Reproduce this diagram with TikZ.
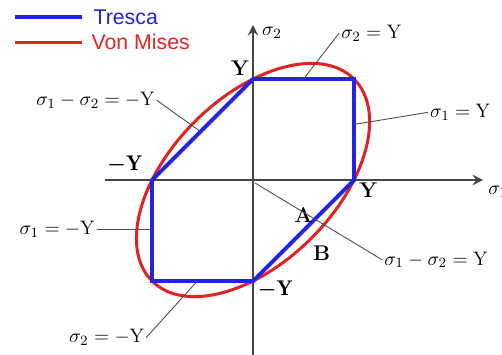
\documentclass[tikz,border=0pt]{standalone}
\usepackage{amsmath}
\usepackage{fontspec}
\newfontfamily\legendfont{Liberation Sans}
\usetikzlibrary{positioning}
\definecolor{trescablue}{RGB}{35,35,225}
\definecolor{misesred}{RGB}{225,35,35}
\definecolor{axisgray}{RGB}{70,70,70}

\begin{document}
\begin{tikzpicture}[x=2cm, y=2cm,
    axis/.style={->, >=stealth, line width=1.6pt, draw=axisgray},
    tresca/.style={draw=trescablue, line width=2.2pt},
    mises/.style={draw=misesred, line width=1.7pt},
    leader/.style={draw=black!70, line width=0.5pt},
    lbl/.style={font=\fontsize{11}{13}\selectfont, inner sep=1pt},
    bold/.style={font=\fontsize{12}{14}\selectfont\bfseries, inner sep=1pt},
    legend/.style={font=\legendfont\fontsize{12}{14}\selectfont,
                   anchor=west, inner sep=1pt}
]
    \useasboundingbox (-2.505,-1.723) rectangle (2.465,1.782);

    % Assen
    \coordinate (xl) at (-1.465,0);
    \coordinate (xr) at (2.277,0);
    \coordinate (yb) at (0,-1.75);
    \coordinate (yt) at (0,1.535);
    \draw[axis] (xl) -- (xr);
    \draw[axis] (yb) -- (yt);
    \node[lbl, anchor=west] (s1) at (2.31,-0.12) {$\sigma_1$};
    \node[lbl, anchor=west] (s2) at (0.07,1.455) {$\sigma_2$};

    % Von Mises ellips
    \draw[mises, rotate=45] (0,0) ellipse [x radius=1.414, y radius=0.816];

    % Tresca zeshoek
    \coordinate (t1) at (1,0);
    \coordinate (t2) at (1,1);
    \coordinate (t3) at (0,1);
    \coordinate (t4) at (-1,0);
    \coordinate (t5) at (-1,-1);
    \coordinate (t6) at (0,-1);
    \draw[tresca] (t1) -- (t2) -- (t3) -- (t4) -- (t5) -- (t6) -- cycle;

    % Snijpunten met de assen
    \node[bold] (ytop) at (-0.13,1.11) {Y};
    \node[bold] (yleft) at (-1.27,0.15) {$\boldsymbol{-}\mathbf{Y}$};
    \node[bold] (yright) at (1.14,-0.10) {Y};
    \node[bold] (ybot) at (0.22,-1.09) {$\boldsymbol{-}\mathbf{Y}$};
    \node[bold] (pa) at (0.50,-0.35) {A};
    \node[bold] (pb) at (0.68,-0.72) {B};

    % Legenda
    \coordinate (lt1) at (-2.356,1.614);
    \coordinate (lt2) at (-1.693,1.614);
    \coordinate (lm1) at (-2.356,1.366);
    \coordinate (lm2) at (-1.693,1.366);
    \draw[tresca] (lt1) -- (lt2);
    \draw[mises] (lm1) -- (lm2);
    \node[legend, text=trescablue] (legt) at (-1.60,1.614) {Tresca};
    \node[legend, text=misesred] (legm) at (-1.62,1.366) {Von Mises};

    % Labels met verwijslijnen
    \node[lbl] (ltop) at (1.17,1.455) {$\sigma_2 = \mathrm{Y}$};
    \node[lbl] (lright) at (2.05,0.67) {$\sigma_1 = \mathrm{Y}$};
    \node[lbl] (lupper) at (-1.56,0.79) {$\sigma_1 - \sigma_2 = -\mathrm{Y}$};
    \node[lbl] (lleft) at (-1.94,-0.485) {$\sigma_1 = -\mathrm{Y}$};
    \node[lbl] (lbot) at (-1.45,-1.56) {$\sigma_2 = -\mathrm{Y}$};
    \node[lbl] (llower) at (1.81,-0.79) {$\sigma_1 - \sigma_2 = \mathrm{Y}$};

    \coordinate (ptop) at (0.5,1);
    \coordinate (pright) at (1,0.55);
    \coordinate (pupper) at (-0.52,0.48);
    \coordinate (pleft) at (-1,-0.485);
    \coordinate (pbot) at (-0.55,-1);
    \coordinate (plower) at (0.02,-0.03);

    \draw[leader] (ltop.west) -- (ptop);
    \draw[leader] (lright.west) -- (pright);
    \draw[leader] (lupper.east) -- (pupper);
    \draw[leader] (lleft.east) -- (pleft);
    \draw[leader] (lbot.east) -- (pbot);
    \draw[leader] (llower.west) -- (plower);

\end{tikzpicture}
\end{document}
